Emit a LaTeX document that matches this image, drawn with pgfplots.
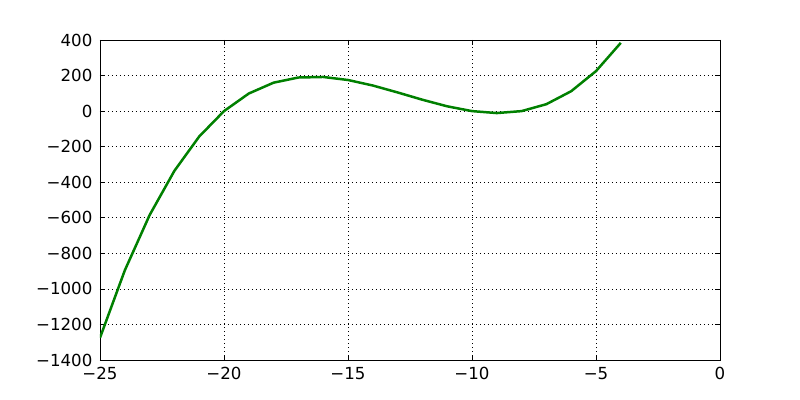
\documentclass[border=0pt]{standalone}
\usepackage{fontspec}
\setmainfont{DejaVu Sans}
\usepackage{pgfplots}
\pgfplotsset{compat=1.18}
\definecolor{mplgreen}{RGB}{0,128,0}
\begin{document}
\begin{tikzpicture}
\begin{axis}[
    scale only axis,
    width=6.2in, height=3.2in,
    xmin=-25, xmax=0,
    ymin=-1400, ymax=400,
    xtick={-25,-20,-15,-10,-5,0},
    xticklabels={−25,−20,−15,−10,−5,0},
    ytick={-1400,-1200,-1000,-800,-600,-400,-200,0,200,400},
    yticklabels={−1400,−1200,−1000,−800,−600,−400,−200,0,200,400},
    tick align=inside,
    major tick length=0.05in,
    tick style={black, line width=0.5pt},
    grid=major,
    major grid style={black, line width=0.5pt, dash pattern=on 0.01in off 0.03in},
    axis line style={black, line width=0.7pt},
    tick label style={font=\fontsize{12}{14}\selectfont},
    xticklabel style={yshift=-2pt},
    yticklabel style={xshift=-2pt},
]
\addplot[mplgreen, line width=1.8pt] coordinates {
    (-25,-1275) (-24,-896) (-23,-585) (-22,-336) (-21,-143) (-20,0)
    (-19,99) (-18,160) (-17,189) (-16,192) (-15,175) (-14,144)
    (-13,105) (-12,64) (-11,27) (-10,0) (-9,-11) (-8,0)
    (-7,39) (-6,112) (-5,225) (-4,384)
};
\end{axis}
\path (current axis.south west) ++(-1in,-0.4in) coordinate (bl);
\path (current axis.north east) ++(0.8in,0.4in) coordinate (tr);
\path[use as bounding box] (bl) rectangle (tr);
\end{tikzpicture}
\end{document}
